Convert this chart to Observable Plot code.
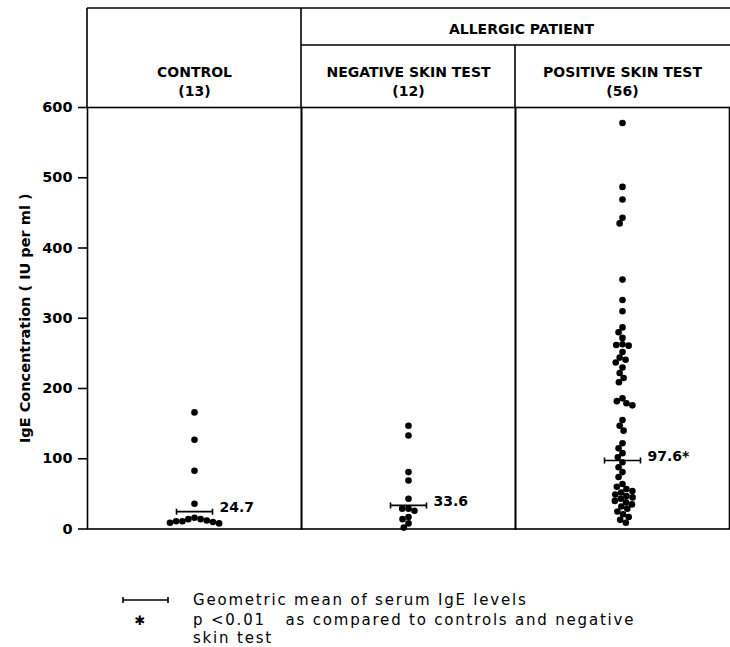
<!DOCTYPE html>
<html><head><meta charset="utf-8">
<script src="https://cdn.jsdelivr.net/npm/d3@7"></script>
<script src="https://cdn.jsdelivr.net/npm/@observablehq/plot@0.6"></script>
<style>
body{margin:0;background:#fff;}
#chart svg{display:block;}
</style></head><body><div id="chart"></div>
<script>
// ---- data ----
const groups = ["control", "negative", "positive"];
const groupLabels = ["CONTROL\n(13)", "NEGATIVE SKIN TEST\n(12)", "POSITIVE SKIN TEST\n(56)"];
const superLabel = "ALLERGIC PATIENT";
const controlValues = [166, 127, 83, 36, 16, 14, 14, 12, 11, 11, 10, 9, 8];
const negativeValues = [147, 133, 81, 69, 43, 29, 29, 26, 17, 14, 8, 2];
const positiveValues = [578, 487, 469, 443, 435, 355, 326, 310, 287, 280, 272, 263, 262, 261, 252,
  244, 241, 237, 230, 222, 215, 209, 186, 182, 179, 176, 155, 147, 140, 122, 115, 108, 102,
  95, 88, 81, 74, 64, 60, 57, 54, 52, 49, 47, 45, 43, 40, 38, 35, 32, 29, 25, 21, 17, 13, 9];
const geoMeans = [24.7, 33.6, 97.6];
const meanLabels = ["24.7", "33.6", "97.6*"];
const yTicks = [0, 100, 200, 300, 400, 500, 600];
const yLabel = "IgE Concentration ( IU per ml )";
const legendMeanText = "Geometric mean of serum IgE levels";
const legendStarSymbol = "\u2731";
const legendStarText = ["p <0.01   as compared to controls and negative", "skin test"];

// ---- tables ----
const valueLists = [controlValues, negativeValues, positiveValues];
const points = groups.flatMap((g, i) => valueLists[i].map(v => ({group: g, value: v})));
const means = groups.map((g, i) => ({group: g, mean: geoMeans[i], label: meanLabels[i]}));

const meanBar = {
  draw(ctx) {
    ctx.moveTo(-18, 0); ctx.lineTo(18, 0);
    ctx.moveTo(-18, -3); ctx.lineTo(-18, 3);
    ctx.moveTo(18, -3); ctx.lineTo(18, 3);
  }
};

const W = 730, H = 647, mT = 107, mL = 86, mB = 118.5;
const font = "DejaVu Sans";

const chart = Plot.plot({
  width: W, height: H,
  marginTop: mT, marginLeft: mL, marginRight: 0, marginBottom: mB,
  style: {fontFamily: font, color: "black", background: "white"},
  fx: {domain: groups, padding: 0},
  y: {domain: [0, 600]},
  marks: [
    Plot.frame({stroke: "black", strokeWidth: 1.6}),
    Plot.axisY({ticks: yTicks, tickSize: 9, tickPadding: 6, fontSize: 14.5, fontWeight: "bold",
      strokeWidth: 1.6, label: yLabel, labelAnchor: "center", labelOffset: 68, labelArrow: "none"}),
    Plot.axisFx({anchor: "top", tickSize: 0, tickPadding: 12, label: null, fontSize: 14,
      fontWeight: "bold", lineHeight: 1.3, tickFormat: d => groupLabels[groups.indexOf(d)]}),
    Plot.dot(points, Plot.dodgeX({anchor: "middle", padding: -0.3},
      {fx: "group", y: "value", r: 3.3, fill: "black"})),
    Plot.dot(means, {fx: "group", y: "mean", symbol: meanBar, r: 3, stroke: "black",
      strokeWidth: 1.6, fill: "none"}),
    Plot.text(means, {fx: "group", y: "mean", text: "label", dx: 25, dy: -4, textAnchor: "start",
      fontSize: 14, fontWeight: "bold"})
  ]
});
document.getElementById("chart").appendChild(chart);

// ---- header box & legend ----
const svg = d3.select(chart);
const fx = chart.scale("fx");
const xs = groups.map(g => fx.apply(g));
const right = W;
const g = svg.append("g").attr("stroke", "black").attr("stroke-width", 1.6).attr("fill", "none");
g.append("line").attr("x1", xs[0]).attr("x2", right).attr("y1", 8).attr("y2", 8);
g.append("line").attr("x1", xs[0]).attr("x2", xs[0]).attr("y1", 8).attr("y2", mT);
g.append("line").attr("x1", xs[1]).attr("x2", xs[1]).attr("y1", 8).attr("y2", mT);
g.append("line").attr("x1", xs[2]).attr("x2", xs[2]).attr("y1", 45).attr("y2", mT);
g.append("line").attr("x1", xs[1]).attr("x2", right).attr("y1", 45).attr("y2", 45);
svg.append("text").attr("x", (xs[1] + right) / 2 + 6).attr("y", 30)
  .attr("text-anchor", "middle").attr("dominant-baseline", "middle")
  .attr("font-family", font).attr("font-size", 14).attr("font-weight", "bold")
  .attr("fill", "black").text(superLabel);

const lg = svg.append("g").attr("font-family", font).attr("fill", "black").attr("text-anchor", "start");
const lgl = lg.append("g").attr("stroke", "black").attr("stroke-width", 1.6);
lgl.append("line").attr("x1", 123).attr("x2", 168).attr("y1", 600).attr("y2", 600);
lgl.append("line").attr("x1", 123).attr("x2", 123).attr("y1", 597).attr("y2", 603);
lgl.append("line").attr("x1", 168).attr("x2", 168).attr("y1", 597).attr("y2", 603);
lg.append("text").attr("x", 193).attr("y", 600).attr("dominant-baseline", "middle")
  .attr("font-size", 15).attr("letter-spacing", 1.8).text(legendMeanText);
lg.append("text").attr("x", 140).attr("y", 621).attr("text-anchor", "middle")
  .attr("dominant-baseline", "middle").attr("font-size", 13).text(legendStarSymbol);
legendStarText.forEach((t, i) => {
  lg.append("text").attr("x", 193).attr("y", 620 + i * 18).attr("dominant-baseline", "middle")
    .attr("font-size", 15).attr("letter-spacing", 1.8).style("white-space", "pre").text(t);
});
</script></body></html>
